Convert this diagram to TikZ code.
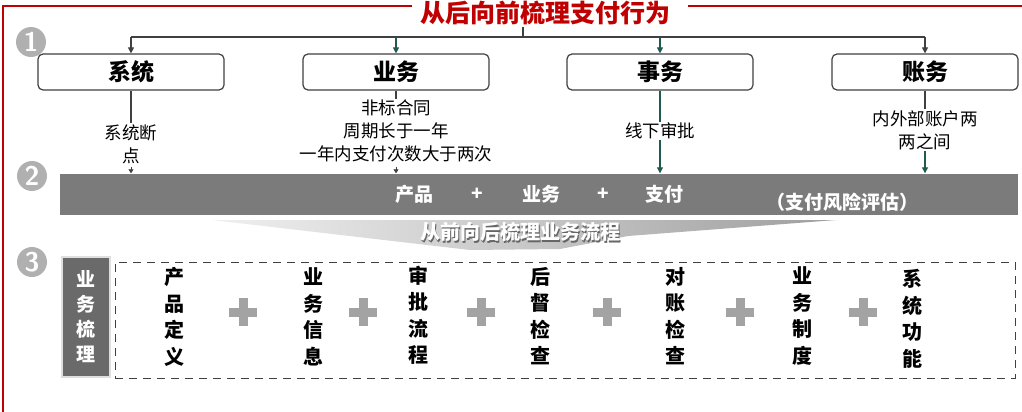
\documentclass[tikz,border=0pt]{standalone}
\usepackage{fontspec}
\newfontfamily\cjk{Noto Sans CJK SC}
\usetikzlibrary{arrows.meta}
\definecolor{redc}{HTML}{C00000}
\definecolor{linec}{HTML}{404040}
\definecolor{teal}{HTML}{1F5A50}
\definecolor{barc}{HTML}{7B7B7B}
\definecolor{darkbox}{HTML}{6A6A6A}
\definecolor{numc}{HTML}{B0B0B0}
\definecolor{plusc}{HTML}{A3A3A3}
\tikzset{
  tip/.style={-{Triangle[length=6pt,width=6pt]}},
  conn/.style={draw=linec, line width=1.1pt},
  box/.style={draw=linec, line width=1.2pt, rounded corners=5pt, fill=white,
    minimum width=186pt, minimum height=36pt, inner sep=0pt,
    font=\cjk\fontsize{23}{25}\selectfont\bfseries},
  note/.style={font=\cjk\fontsize{17.5}{23}\selectfont, align=center, inner sep=1pt},
  bartext/.style={text=white, font=\cjk\fontsize{19}{21}\selectfont\bfseries, inner sep=0pt},
  col/.style={font=\cjk\fontsize{20}{26.5}\selectfont\bfseries, align=center, inner sep=0pt},
  num/.style={circle, fill=numc, text=white, minimum size=30pt, inner sep=0pt,
    font=\sffamily\fontsize{27}{27}\selectfont\bfseries},
  plussign/.pic={\fill[plusc] (-14,-4.5) rectangle (14,4.5); \fill[plusc] (-4.5,-14) rectangle (4.5,14);}
}
\begin{document}
\begin{tikzpicture}[x=1pt,y=-1pt]
\useasboundingbox (0,0) rectangle (1022,412);
\fill[white] (0,0) rectangle (1022,412);

% title and red frame
\node[text=redc, font=\cjk\fontsize{25}{27}\selectfont\bfseries, inner sep=0pt] (title) at (545,13) {从后向前梳理支付行为};
\coordinate (tl) at (3,6);
\coordinate (bl) at (3,412);
\coordinate (tr) at (1022,6);
\draw[redc, line width=2.5pt] (bl) -- (tl) -- ([xshift=-8pt]title.west |- tl);
\draw[redc, line width=2.5pt] ([xshift=18pt]title.east |- tr) -- (tr);

% numbers
\node[num] (n1) at (31,42) {1};
\node[num] (n2) at (32,176) {2};
\node[num] (n3) at (32,262) {3};

% level 1 boxes
\node[box] (sys) at (131,72) {系统};
\node[box] (bus) at (396,72) {业务};
\node[box] (aff) at (660,72) {事务};
\node[box] (acc) at (925,72) {账务};

% tree connectors
\coordinate (stem) at (523,27);
\coordinate (j) at (523,37);
\draw[conn] (stem) -- (j);
\draw[conn] (sys.north |- j) -- (acc.north |- j);
\draw[conn, tip] (sys.north |- j) -- (sys.north);
\draw[conn, draw=teal, tip] (bus.north |- j) -- (bus.north);
\draw[conn, draw=teal, tip] (aff.north |- j) -- (aff.north);
\draw[conn, tip] (acc.north |- j) -- (acc.north);

% notes
\node[note] (sysn) at (131,144) {系统断\\点};
\node[note] (busn) at (396,131) {非标合同\\周期长于一年\\一年内支付次数大于两次};
\node[note] (affn) at (660,131) {线下审批};
\node[note] (accn) at (925,130) {内外部账户两\\两之间};
\draw[conn] (sys.south) -- (sysn.north);
\draw[conn] (bus.south) -- (busn.north);
\draw[conn, draw=teal] (aff.south) -- (affn.north);
\draw[conn] (acc.south) -- (accn.north);

% bar
\node[fill=barc, minimum width=958pt, minimum height=41pt, inner sep=0pt] (bar) at (539,194) {};
\coordinate (sysa) at (131,167);
\coordinate (busa) at (396,167);
\draw[linec, line width=0.8pt, -{Triangle[length=4pt,width=5pt]}] (sysa) -- (sys.south |- bar.north);
\draw[linec, line width=0.8pt, -{Triangle[length=4pt,width=5pt]}] (busa) -- (bus.south |- bar.north);
\draw[conn, draw=teal, tip] (affn.south) -- (aff.south |- bar.north);
\draw[conn, draw=teal, tip] (accn.south) -- (acc.south |- bar.north);

\node[bartext] (b1) at (414,194) {产品};
\node[bartext] (p1) at (477,194) {+};
\node[bartext] (b2) at (541,194) {业务};
\node[bartext] (p2) at (603,194) {+};
\node[bartext] (b3) at (664,194) {支付};
\node[bartext] (b4) at (842,202) {（支付风险评估）};

% wedge
\shade[left color=gray!12, right color=gray!75] (212,220) -- (836,220) -- (628,236) -- (560,249) -- (470,250) -- cycle;
\node[text=black!60, font=\cjk\fontsize{20}{22}\selectfont\bfseries, inner sep=0pt] at (521.5,233.5) {从前向后梳理业务流程};
\node[text=white, font=\cjk\fontsize{20}{22}\selectfont\bfseries, inner sep=0pt] (wt) at (520,232) {从前向后梳理业务流程};

% section 3
\node[draw=linec, line width=1pt, dash pattern=on 8pt off 6pt, minimum width=900pt, minimum height=116pt, inner sep=0pt] (dash) at (565,320) {};
\node[fill=darkbox, draw=gray!25, line width=2pt, minimum width=48pt, minimum height=120pt, text=white, align=center,
  font=\cjk\fontsize{19}{25}\selectfont\bfseries] (side) at (86,317) {业\\务\\梳\\理};

\node[col] (c1) at (174,317) {产\\品\\定\\义};
\node[col] (c2) at (313,317) {业\\务\\信\\息};
\node[col] (c3) at (418,315) {审\\批\\流\\程};
\node[col] (c4) at (540,316) {后\\督\\检\\查};
\node[col] (c5) at (675,316) {对\\账\\检\\查};
\node[col] (c6) at (802,316) {业\\务\\制\\度};
\node[col] (c7) at (912,319) {系\\统\\功\\能};

\pic at (243,312) {plussign};
\pic at (363,312) {plussign};
\pic at (481,312) {plussign};
\pic at (607,312) {plussign};
\pic at (740,312) {plussign};
\pic at (863,312) {plussign};
\end{tikzpicture}
\end{document}
